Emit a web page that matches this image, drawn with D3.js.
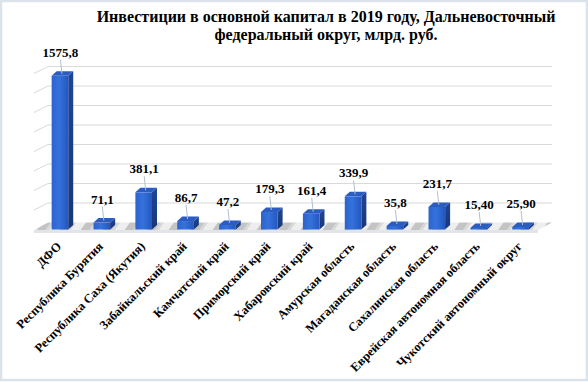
<!DOCTYPE html>
<html><head><meta charset="utf-8">
<script src="https://cdn.jsdelivr.net/npm/d3@7/dist/d3.min.js"></script>
<style>html,body{margin:0;padding:0;background:#fff;}svg{display:block;}</style>
</head><body>
<svg id="c" width="588" height="382"></svg>
<script>
const categories = ["ДФО","Республика Бурятия","Республика Саха (Якутия)","Забайкальский край","Камчатский край","Приморский  край","Хабаровский  край","Амурская  область","Магаданская область","Сахалинская область","Еврейская  автономная область","Чукотский автономный округ"];
const values = [1575.8, 71.1, 381.1, 86.7, 47.2, 179.3, 161.4, 339.9, 35.8, 231.7, 15.40, 25.90];
const valueLabels = ["1575,8","71,1","381,1","86,7","47,2","179,3","161,4","339,9","35,8","231,7","15,40","25,90"];
const gridTicks = [0,200,400,600,800,1000,1200,1400,1600];
const titleLines = ["Инвестиции в основной капитал в 2019 году, Дальневосточный","федеральный округ, млрд. руб."];

const svg = d3.select("#c");
const defs = svg.append("defs");
const font = "'Liberation Serif','Times New Roman',serif";

// frame
svg.append("rect").attr("x",1).attr("y",1).attr("width",586).attr("height",379)
  .attr("fill","#fff").attr("stroke","#dce2e9").attr("stroke-width",2.5);

// scales
const x = d3.scaleBand().domain(categories).range([39,541.5]);
const h = d3.scaleLinear().domain([0,1600]).range([0,156]);
const barBase = 229.5, wallBase = 222.5;
const depthX = 14, depthY = 7;
const wallLeft = 48, wallRight = 552;
const barW = 16.6, bdx = 5, bdy = 4.5;

// gradients
const gF = defs.append("linearGradient").attr("id","gf").attr("x1",0).attr("x2",1).attr("y1",0).attr("y2",0);
gF.append("stop").attr("offset","0%").attr("stop-color","#2c63cf");
gF.append("stop").attr("offset","45%").attr("stop-color","#3572dc");
gF.append("stop").attr("offset","100%").attr("stop-color","#2456bf");
const gS = defs.append("linearGradient").attr("id","gs").attr("x1",0).attr("x2",0).attr("y1",0).attr("y2",1);
gS.append("stop").attr("offset","0%").attr("stop-color","#1f4596");
gS.append("stop").attr("offset","100%").attr("stop-color","#183775");

// floor pattern
const pat = defs.append("pattern").attr("id","fp").attr("patternUnits","userSpaceOnUse")
  .attr("width",18).attr("height",18).attr("patternTransform","rotate(35)");
pat.append("rect").attr("width",18).attr("height",18).attr("fill","#eeeeee");
pat.append("rect").attr("width",7).attr("height",18).attr("fill","#c4c4c4");
pat.append("rect").attr("x",7).attr("width",3).attr("height",18).attr("fill","#d8d8d8");

// gridlines on back wall + side stubs
const grid = svg.append("g");
gridTicks.filter(t=>t>0).forEach(t=>{
  const yy = wallBase - h(t);
  grid.append("line").attr("x1",wallLeft).attr("x2",wallRight).attr("y1",yy).attr("y2",yy)
    .attr("stroke","#d9d9d9").attr("stroke-width",1);
  grid.append("line").attr("x1",wallLeft-depthX).attr("x2",wallLeft).attr("y1",yy+depthY).attr("y2",yy)
    .attr("stroke","#d9d9d9").attr("stroke-width",1);
});

// floor
const fy0 = wallBase + depthY + 0.5;
svg.append("polygon")
  .attr("points",[[wallLeft-depthX,fy0],[wallLeft,wallBase],[wallRight,wallBase],[wallRight-depthX,fy0]].map(p=>p.join(",")).join(" "))
  .attr("fill","url(#fp)");
svg.append("rect").attr("x",wallLeft-depthX).attr("y",fy0).attr("width",wallRight-wallLeft).attr("height",3)
  .attr("fill","#e1e4e8");

// bars
const bars = svg.append("g");
categories.forEach((c,i)=>{
  const v = values[i];
  const x0 = x(c) + (x.bandwidth()-barW)/2;
  const top = barBase - h(v);
  bars.append("polygon")
    .attr("points",[[x0+barW,top],[x0+barW+bdx,top-bdy],[x0+barW+bdx,barBase-bdy],[x0+barW,barBase]].map(p=>p.join(",")).join(" "))
    .attr("fill","url(#gs)");
  bars.append("rect").attr("x",x0).attr("y",top).attr("width",barW).attr("height",barBase-top)
    .attr("fill","url(#gf)");
  bars.append("polygon")
    .attr("points",[[x0,top],[x0+bdx,top-bdy],[x0+barW+bdx,top-bdy],[x0+barW,top]].map(p=>p.join(",")).join(" "))
    .attr("fill","#2b5cc2");
  // label + leader
  const cx = x0 + barW/2 + 0.5;
  const ly = top - 19;
  bars.append("line").attr("x1",cx).attr("y1",ly+3).attr("x2",x0+barW/2+2).attr("y2",top-2)
    .attr("stroke","#b3bfcc").attr("stroke-width",1);
  bars.append("text").attr("x",cx).attr("y",ly).attr("text-anchor","middle")
    .attr("font-family",font).attr("font-weight","bold").attr("font-size",13).attr("fill","#000")
    .text(valueLabels[i]);
});

// category labels
const cat = svg.append("g");
categories.forEach((c,i)=>{
  const cx = x(c) + x.bandwidth()/2;
  cat.append("text").attr("transform",`translate(${cx-1},${244}) rotate(-45)`)
    .attr("text-anchor","end").attr("dy","0.35em")
    .attr("font-family",font).attr("font-weight","bold").attr("font-size",12.5).attr("fill","#000")
    .text(c);
});

// title
svg.append("g").selectAll("text").data(titleLines).join("text")
  .attr("x",326).attr("y",(d,i)=>22+i*17.5).attr("text-anchor","middle")
  .attr("font-family",font).attr("font-weight","bold").attr("font-size",16).attr("fill","#000")
  .text(d=>d);
</script>
</body></html>
